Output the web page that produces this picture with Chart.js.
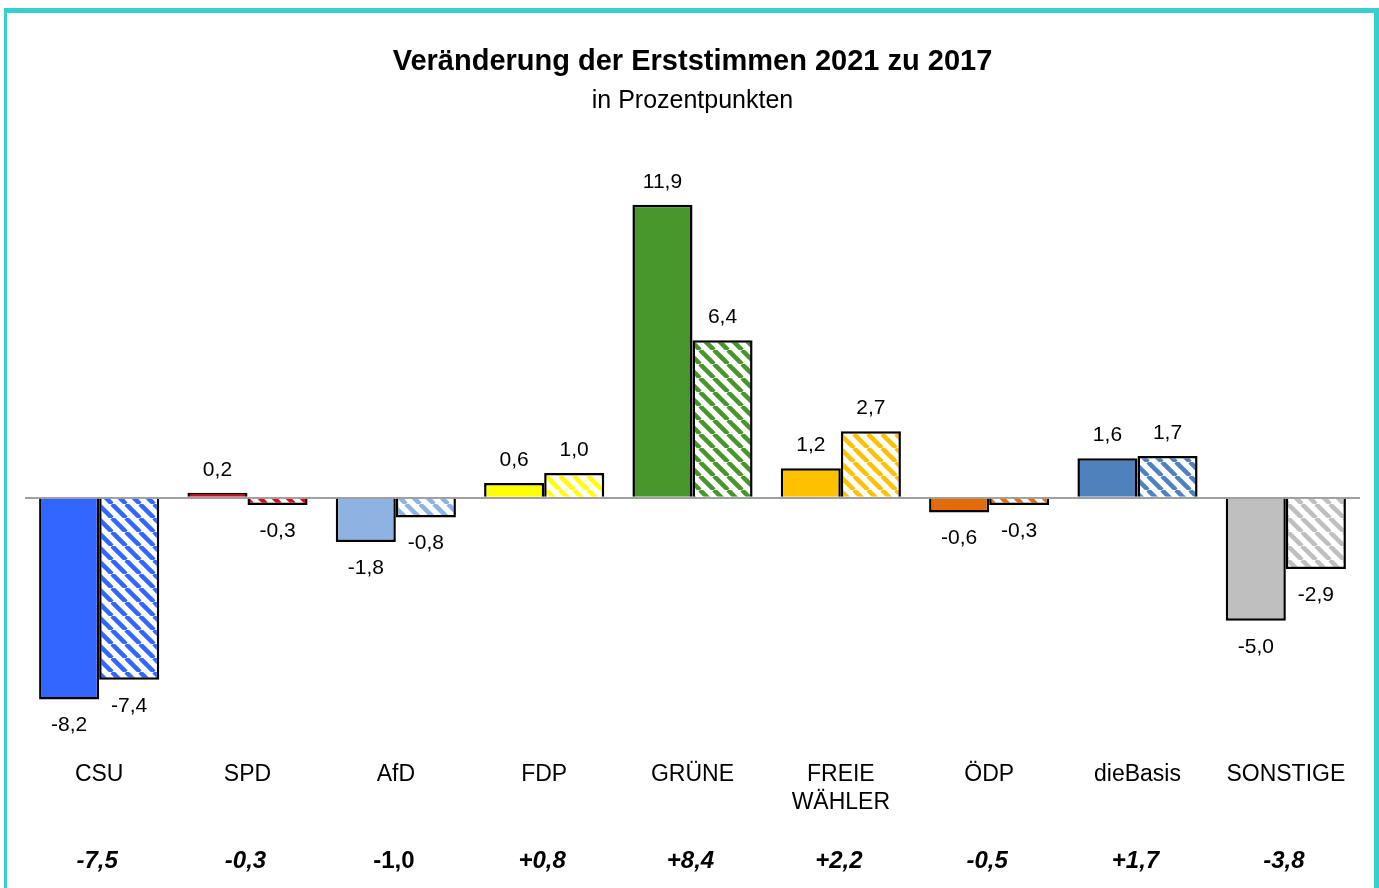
<!DOCTYPE html>
<html>
<head>
<meta charset="utf-8">
<script src="https://cdn.jsdelivr.net/npm/chart.js@4"></script>
<style>
  html, body { margin: 0; padding: 0; background: #fff; overflow: hidden; }
  #wrap { position: relative; width: 1379px; height: 888px; }
  #frame {
    position: absolute; left: 4px; top: 8px; width: 1375px; height: 900px;
    border-top: 5px solid #36CFD0; border-left: 3px solid #36CFD0; border-right: 5px solid #36CFD0;
    box-sizing: border-box; pointer-events: none;
  }
</style>
</head>
<body>
<div id="wrap">
  <canvas id="chart" width="1379" height="888"></canvas>
  <div id="frame"></div>
</div>
<script>
// data
const parties = ['CSU', 'SPD', 'AfD', 'FDP', 'GRÜNE', ['FREIE', 'WÄHLER'], 'ÖDP', 'dieBasis', 'SONSTIGE'];
const partyColors = ['#3366FF', '#E2001A', '#8DB3E2', '#FFFF00', '#46962B', '#FFC000', '#E36C0A', '#4F81BD', '#BFBFBF'];
const solidValues = [-8.2, 0.2, -1.8, 0.6, 11.9, 1.2, -0.6, 1.6, -5.0];
const hatchedValues = [-7.4, -0.3, -0.8, 1.0, 6.4, 2.7, -0.3, 1.7, -2.9];
const bottomLabels = ['-7,5', '-0,3', '-1,0', '+0,8', '+8,4', '+2,2', '-0,5', '+1,7', '-3,8'];

const FONT = "'Liberation Sans', Arial, sans-serif";

function makeHatch(color) {
    const s = 14;
    const c = document.createElement('canvas');
    c.width = s;
    c.height = s;
    const g = c.getContext('2d');
    g.fillStyle = '#fff';
    g.fillRect(0, 0, s, s);
    g.strokeStyle = color;
    g.lineWidth = 4.5;
    for (let k = -1; k <= 1; k++) {
        g.beginPath();
        g.moveTo(k * s, 0);
        g.lineTo(k * s + s, s);
        g.stroke();
    }
    return g.createPattern(c, 'repeat');
}

function fmt(v) {
    return v.toFixed(1).replace('.', ',');
}

// value labels on top of / below each bar
const valueLabels = {
    id: 'valueLabels',
    afterDatasetsDraw(chart) {
        const ctx = chart.ctx;
        ctx.save();
        ctx.font = '21px ' + FONT;
        ctx.fillStyle = '#000';
        ctx.textAlign = 'center';
        ctx.textBaseline = 'middle';
        chart.data.datasets.forEach((ds, i) => {
            chart.getDatasetMeta(i).data.forEach((bar, j) => {
                const v = ds.data[j];
                const y = v >= 0 ? bar.y - 23 : bar.y + 26;
                ctx.fillText(fmt(v), bar.x, y);
            });
        });
        ctx.restore();
    }
};

// bold italic difference row under the category labels
const bottomRow = {
    id: 'bottomRow',
    afterDraw(chart) {
        const ctx = chart.ctx;
        const x = chart.scales.x;
        ctx.save();
        ctx.fillStyle = '#000';
        ctx.textAlign = 'center';
        ctx.textBaseline = 'middle';
        bottomLabels.forEach((t, i) => {
            ctx.font = (t === '-1,0' ? 'bold ' : 'italic bold ') + '24px ' + FONT;
            ctx.fillText(t, x.getPixelForValue(i) - 2, 861);
        });
        ctx.restore();
    }
};

const ctx = document.getElementById('chart').getContext('2d');
new Chart(ctx, {
    type: 'bar',
    data: {
        labels: parties,
        datasets: [{
            label: 'Erststimmen',
            data: solidValues,
            backgroundColor: partyColors,
            borderColor: '#000',
            borderWidth: 2.5,
            borderSkipped: 'start'
        }, {
            label: 'Vergleich',
            data: hatchedValues,
            backgroundColor: partyColors.map(makeHatch),
            borderColor: '#000',
            borderWidth: 2.5,
            borderSkipped: 'start'
        }]
    },
    options: {
        responsive: false,
        animation: false,
        layout: { padding: { left: 25, right: 19, top: 0, bottom: 55 } },
        barPercentage: 1,
        categoryPercentage: 0.81,
        plugins: {
            legend: { display: false },
            tooltip: { enabled: false },
            title: {
                display: true,
                text: 'Veränderung der Erststimmen 2021 zu 2017',
                color: '#000',
                font: { family: FONT, size: 29, weight: 'bold' },
                padding: { top: 45, bottom: 4 }
            },
            subtitle: {
                display: true,
                text: 'in Prozentpunkten',
                color: '#000',
                font: { family: FONT, size: 25 },
                padding: { top: 2, bottom: 62 }
            }
        },
        scales: {
            x: {
                grid: { display: false, drawTicks: false },
                border: { display: false },
                ticks: {
                    color: '#000',
                    padding: 17,
                    maxRotation: 0,
                    autoSkip: false,
                    font: { family: FONT, size: 23 }
                }
            },
            y: {
                min: -10,
                max: 13,
                z: 1,
                border: { display: false },
                grid: {
                    drawTicks: false,
                    lineWidth: 2,
                    color: c => c.tick && c.tick.value === 0 ? '#A0A0A0' : 'rgba(0,0,0,0)'
                },
                ticks: { display: false, stepSize: 1 }
            }
        }
    },
    plugins: [valueLabels, bottomRow]
});
</script>
</body>
</html>
